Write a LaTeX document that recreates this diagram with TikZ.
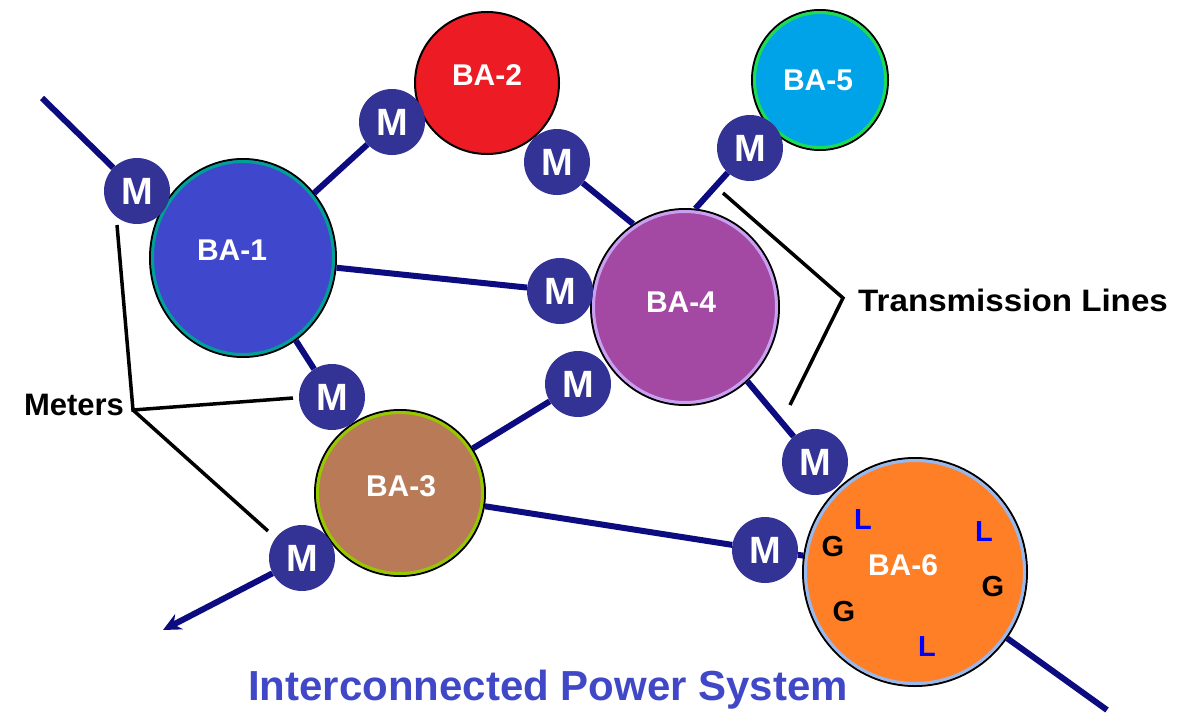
\documentclass[tikz,border=0pt]{standalone}
\usepackage{fontspec}
\setmainfont{Liberation Sans}
\usetikzlibrary{shapes.geometric,arrows.meta}
\definecolor{navy}{RGB}{12,12,128}
\definecolor{mfill}{RGB}{51,51,150}
\definecolor{ba1c}{RGB}{63,72,204}
\definecolor{ba1r}{RGB}{0,160,150}
\definecolor{ba2c}{RGB}{237,28,36}
\definecolor{ba3c}{RGB}{185,122,87}
\definecolor{ba3r}{RGB}{150,200,0}
\definecolor{ba4c}{RGB}{163,73,164}
\definecolor{ba4r}{RGB}{200,160,240}
\definecolor{ba5c}{RGB}{0,162,232}
\definecolor{ba5r}{RGB}{30,220,80}
\definecolor{ba6c}{RGB}{255,127,39}
\definecolor{ba6r}{RGB}{150,185,240}
\definecolor{titlec}{RGB}{65,72,200}
\definecolor{lblue}{RGB}{0,0,255}
\begin{document}
\begin{tikzpicture}[x=1pt,y=-1pt,
  tline/.style={draw=navy, line width=6pt},
  callout/.style={draw=black, line width=3.5pt},
  meter/.style={circle, fill=mfill, minimum size=66pt, inner sep=0pt, text=white, font=\bfseries\fontsize{38}{38}\selectfont},
  ba/.style={ellipse, draw=black, line width=2pt, inner sep=0pt},
  ring/.style={line width=3pt},
  batext/.style={text=white, font=\bfseries\fontsize{30}{30}\selectfont, inner sep=0pt},
  lbl/.style={text=black, font=\bfseries\fontsize{31}{31}\selectfont, inner sep=0pt},
  glyph/.style={font=\bfseries\fontsize{29}{29}\selectfont, inner sep=0pt}]
\useasboundingbox (0,0) rectangle (1191,712);
\fill[white] (0,0) rectangle (1191,712);

% BA areas
\node[ba, fill=ba1c, minimum width=186pt, minimum height=198pt] (ba1) at (243,258) {};
\draw[ba1r, ring] (ba1.center) ellipse [x radius=90.5pt, y radius=96.5pt];
\node[ba, fill=ba2c, minimum width=144pt, minimum height=142pt] (ba2) at (487,83) {};
\node[ba, fill=ba5c, minimum width=136pt, minimum height=140pt] (ba5) at (820,80) {};
\draw[ba5r, ring] (ba5.center) ellipse [x radius=65.5pt, y radius=67.5pt];
\node[ba, fill=ba4c, minimum width=188pt, minimum height=196pt] (ba4) at (685,307) {};
\draw[ba4r, ring] (ba4.center) ellipse [x radius=91.5pt, y radius=95.5pt];
\node[ba, fill=ba3c, minimum width=170pt, minimum height=166pt] (ba3) at (400,493) {};
\draw[ba3r, ring] (ba3.center) ellipse [x radius=82.5pt, y radius=80.5pt];
\node[ba, fill=ba6c, minimum width=224pt, minimum height=228pt] (ba6) at (915,572) {};
\draw[ba6r, ring] (ba6.center) ellipse [x radius=109.5pt, y radius=111.5pt];

% meters
\node[meter] (m1) at (137,191) {M};
\node[meter] (m2) at (392,122) {M};
\node[meter] (m3) at (557,162) {M};
\node[meter] (m4) at (750,148) {M};
\node[meter] (m5) at (560,291) {M};
\node[meter] (m6) at (578,384) {M};
\node[meter] (m7) at (332,397) {M};
\node[meter] (m8) at (302,558) {M};
\node[meter] (m9) at (815,462) {M};
\node[meter] (m10) at (765,550) {M};

% free ends
\coordinate (inNW) at (42,98);
\coordinate (outSW) at (163,630);
\coordinate (outSE) at (1107,710);

% transmission lines
\draw[tline] (inNW) -- (m1);
\draw[tline] (ba1) -- (m2);
\draw[tline] (m3) -- (ba4.122);
\draw[tline] (m4) -- (ba4.84);
\draw[tline] (ba1) -- (m5);
\draw[tline] (ba1) -- (m7);
\draw[tline] (ba4) -- (m9);
\draw[tline] (m6) -- (ba3);
\draw[tline] (ba3) -- (m10);
\draw[tline] (m10) -- (ba6);
\draw[tline, -{Stealth[length=18pt,width=17pt,inset=6pt]}] (m8) -- (outSW);
\draw[tline] (ba6) -- (outSE);

% BA labels
\node[batext] (t1) at (232,250) {BA-1};
\node[batext] (t2) at (487,75) {BA-2};
\node[batext] (t3) at (401,486) {BA-3};
\node[batext] (t4) at (681,302) {BA-4};
\node[batext] (t5) at (818,80) {BA-5};
\node[batext] (t6) at (903,565) {BA-6};

% loads and generators in BA-6
\node[glyph, text=lblue] (l1) at (863,520) {L};
\node[glyph, text=lblue] (l2) at (984,532) {L};
\node[glyph, text=lblue] (l3) at (927,647) {L};
\node[glyph, text=black] (g1) at (833,547) {G};
\node[glyph, text=black] (g2) at (993,587) {G};
\node[glyph, text=black] (g3) at (844,612) {G};

% Meters callout
\node[lbl] (meters) at (74,405) {Meters};
\coordinate (mv) at (133,410);
\coordinate (ma) at (117,225);
\coordinate (mb) at (293,398);
\coordinate (mc) at (268,531);
\draw[callout] (ma) -- (mv) -- (mb);
\draw[callout] (mv) -- (mc);

% Transmission lines callout
\node[lbl, anchor=west, xscale=1.07] (tl) at (858,300) {Transmission Lines};
\coordinate (ta) at (723,193);
\coordinate (tv) at (843,298);
\coordinate (tb) at (790,405);
\draw[callout] (ta) -- (tv) -- (tb);

% title
\node[text=titlec, font=\bfseries\fontsize{42}{42}\selectfont, inner sep=0pt] (title) at (548,690) {Interconnected Power System};
\end{tikzpicture}
\end{document}
